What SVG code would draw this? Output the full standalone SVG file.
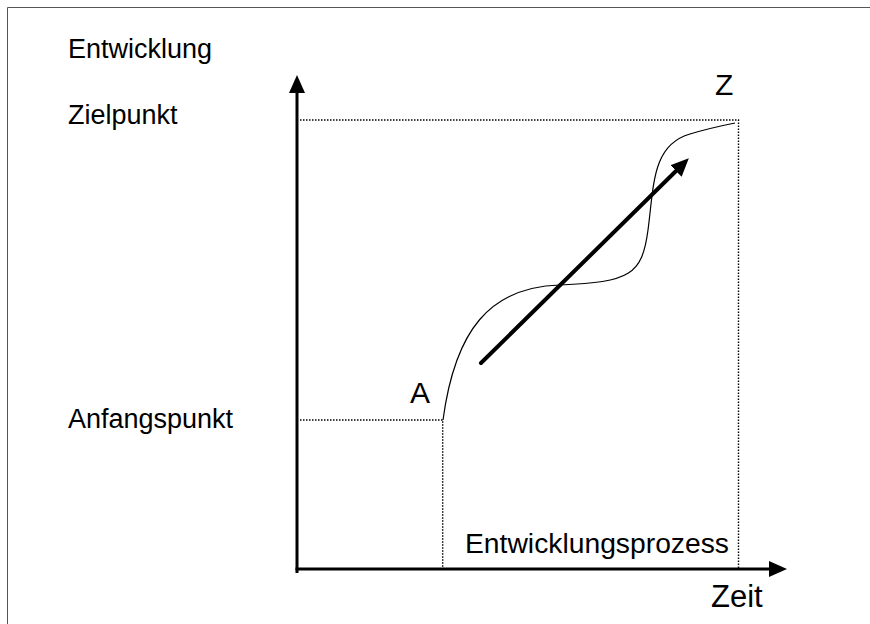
<svg xmlns="http://www.w3.org/2000/svg" width="870" height="624" viewBox="0 0 870 624">
  <style>
    .lbl { font-family: "Liberation Sans", Arial, sans-serif; font-size: 27px; fill: #000; }
    .big { font-size: 30px; }
    .dot { fill: none; stroke: #000; stroke-width: 1.4; stroke-dasharray: 1.5 1.5; }
    .axis { fill: none; stroke: #000; stroke-width: 3; }
  </style>
  <defs>
    <marker id="ah" viewBox="0 0 18 16" markerWidth="18" markerHeight="16" refX="0" refY="8" orient="auto" markerUnits="userSpaceOnUse">
      <path d="M0,0 L18,8 L0,16 z" fill="#000"/>
    </marker>
  </defs>
  <rect width="870" height="624" fill="#fff"/>
  <path d="M7.5,624 V7.5 H870" fill="none" stroke="#555" stroke-width="1"/>

  <g id="labels">
    <text class="lbl" x="68" y="58">Entwicklung</text>
    <text class="lbl" x="68" y="124">Zielpunkt</text>
    <text class="lbl" x="68" y="428">Anfangspunkt</text>
    <text class="lbl big" x="410" y="403">A</text>
    <text class="lbl big" x="715" y="95">Z</text>
    <text class="lbl" x="465" y="553" textLength="264" lengthAdjust="spacingAndGlyphs">Entwicklungsprozess</text>
    <text class="lbl" x="711" y="607" style="font-size:31px">Zeit</text>
  </g>

  <g id="guides">
    <path class="dot" d="M300,120 H738.5 V569"/>
    <path class="dot" d="M300,420 H442.7 V569"/>
  </g>

  <g id="curve">
    <path d="M443,420 C455,330 490,287 560,285 C630,282 642,275 648,230 C654,185 652,145 690,134 C710,128 725,125 735,123" fill="none" stroke="#000" stroke-width="1.2"/>
  </g>

  <g id="connectors">
    <line class="axis" x1="297" y1="573" x2="297" y2="93" marker-end="url(#ah)"/>
    <line class="axis" x1="295.5" y1="569" x2="769" y2="569" marker-end="url(#ah)"/>
    <line x1="481" y1="363" x2="676" y2="171" stroke="#000" stroke-width="4" stroke-linecap="round" marker-end="url(#ah)"/>
  </g>
</svg>
